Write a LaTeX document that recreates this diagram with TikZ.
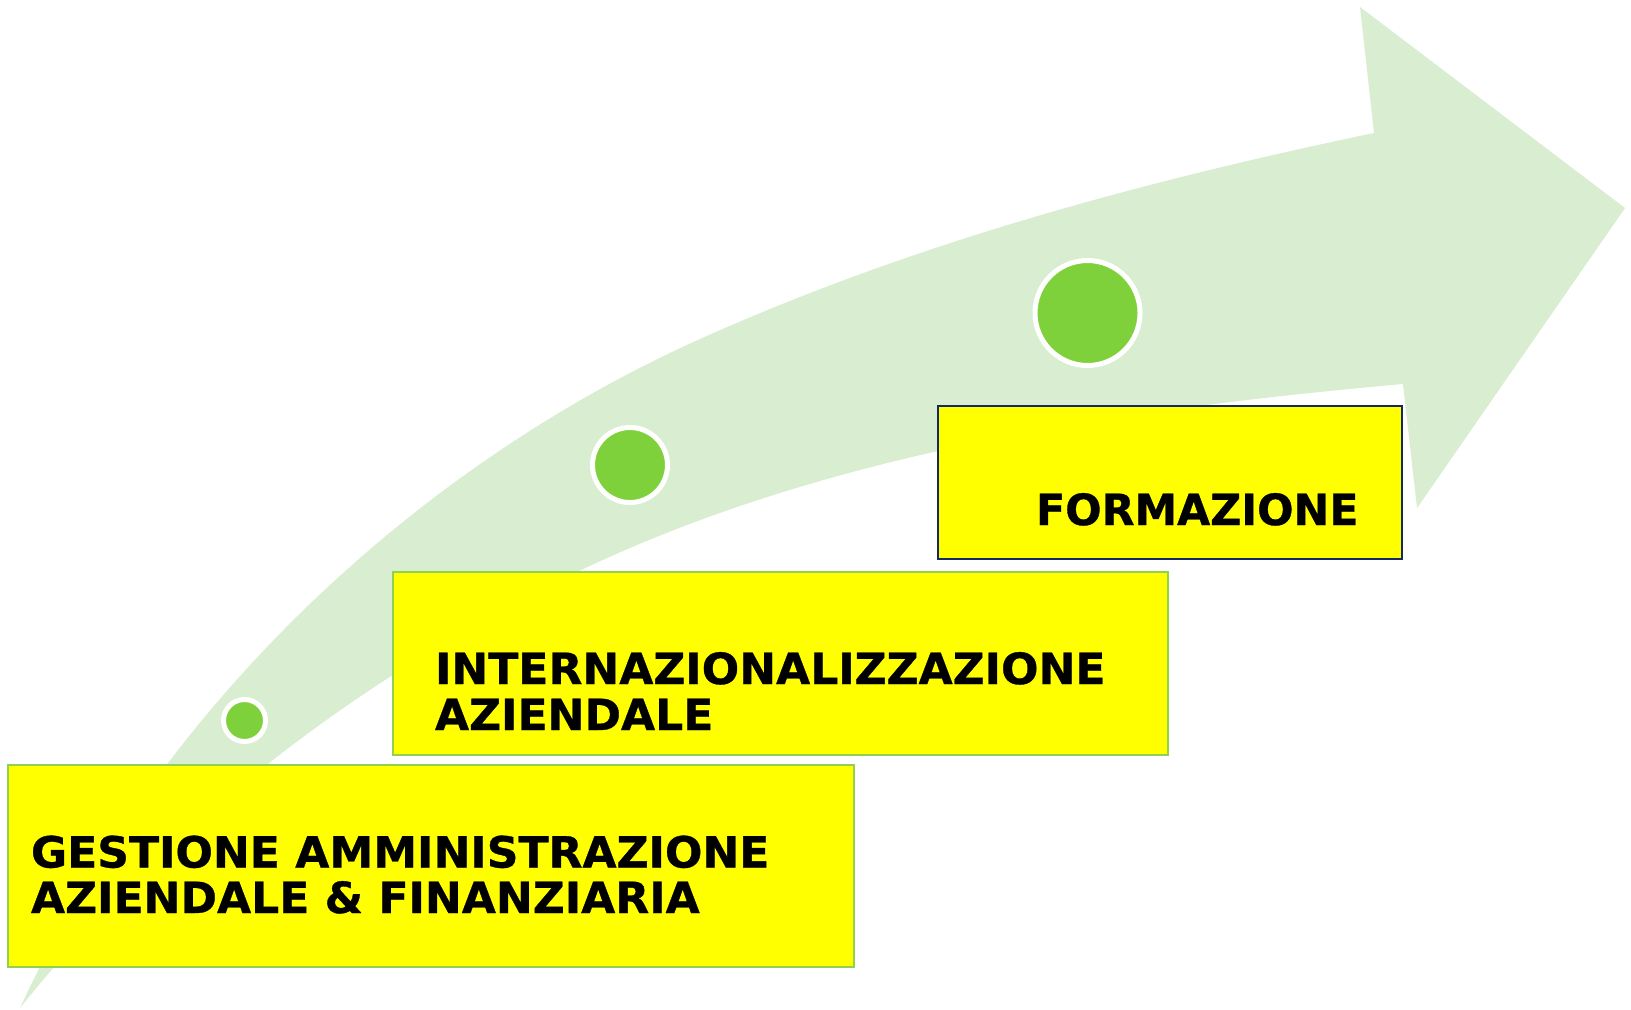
\documentclass[tikz,border=0pt]{standalone}
\usepackage{fontspec}
\newfontfamily\boxfont{DejaVu Sans}[FakeStretch=1.025, FakeBold=0.8]
\newfontfamily\boxfontn{DejaVu Sans}[FakeStretch=0.995, FakeBold=0.8]
\definecolor{arrowgreen}{RGB}{217,237,209}
\definecolor{dotgreen}{RGB}{127,209,59}
\definecolor{boxyellow}{RGB}{255,255,0}
\definecolor{edgegreen}{RGB}{146,208,80}
\definecolor{edgenavy}{RGB}{20,40,100}
\begin{document}
\begin{tikzpicture}[x=0.5pt,y=-0.5pt,
  stepdot/.style={circle, fill=dotgreen, draw=white, line width=2.5pt, inner sep=0pt, outer sep=0pt},
  stagebox/.style={rectangle, fill=boxyellow, draw=edgegreen, line width=1pt, inner sep=0pt, outer sep=0pt, anchor=north west},
  lbl/.style={font=\boxfont\bfseries\fontsize{21.5}{23}\selectfont, text=black, inner sep=0pt, outer sep=0pt, anchor=base west}]
\fill[white] (0,0) rectangle (1631,1009);
\useasboundingbox (0,0) rectangle (1631,1009);
% big curved arrow
\fill[arrowgreen] (20,1008) .. controls (165,695) and (426,462) .. (700,339)
  .. controls (914,243) and (1144,181) .. (1374,133)
  -- (1360,7) -- (1625,208) -- (1417,508) -- (1403,384)
  .. controls (1124,409) and (829,451) .. (577,572)
  .. controls (364,674) and (167,824) .. (20,1008) -- cycle;
% dots
\node[stepdot, minimum size=21pt] (d1) at (244.5,720.5) {};
\node[stepdot, minimum size=37.5pt] (d2) at (630,465) {};
\node[stepdot, minimum size=52.5pt] (d3) at (1087.5,313) {};
% boxes
\node[stagebox, minimum width=422.85pt, minimum height=101.25pt] (b1) at (8.3,764.5) {};
\node[stagebox, minimum width=387.5pt, minimum height=91.5pt] (b2) at (393,572) {};
\node[stagebox, draw=edgenavy, line width=1.2pt, minimum width=232pt, minimum height=76.5pt] (b3) at (938,406) {};
% labels
\node[lbl] (t1a) at (31,867.5) {GESTIONE AMMINISTRAZIONE};
\node[lbl] (t1b) at (31,913) {AZIENDALE \& FINANZIARIA};
\node[lbl] (t2a) at (435,684) {INTERNAZIONALIZZAZIONE};
\node[lbl] (t2b) at (435,730) {AZIENDALE};
\node[lbl, font=\boxfontn\bfseries\fontsize{21.5}{23}\selectfont] (t3) at (1036,525) {FORMAZIONE};
\end{tikzpicture}
\end{document}
